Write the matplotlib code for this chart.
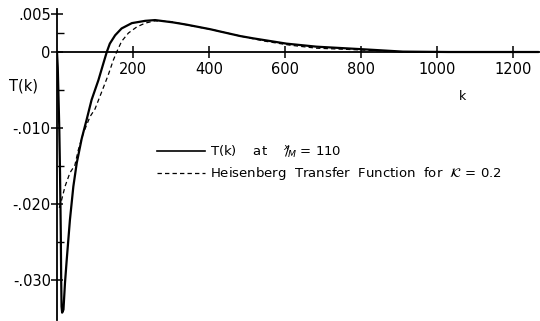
import matplotlib
matplotlib.use("Agg")
import matplotlib.pyplot as plt
from matplotlib.lines import Line2D

# Measured transfer function T(k) at x/M = 110
k_meas = [0, 2, 4, 6, 8, 10, 11, 12, 13.5, 17, 21, 25.5, 34, 43, 52, 65, 78, 91,
          109, 122, 131, 139, 153, 170, 197, 232, 258, 305, 341, 403, 429, 482,
          516, 604, 683, 805, 910, 1030, 1150, 1265]
t_meas = [0, -0.002, -0.006, -0.010, -0.016, -0.024, -0.030, -0.0335, -0.0343,
          -0.0339, -0.0304, -0.0274, -0.0221, -0.0177, -0.0146, -0.0114, -0.0089,
          -0.0063, -0.0037, -0.0015, 0.0, 0.0011, 0.0022, 0.0031, 0.0038, 0.0041,
          0.0042, 0.0039, 0.0036, 0.0030, 0.0027, 0.0021, 0.0018, 0.0011, 0.0007,
          0.00036, 0.00005, 0.0, 0.0, 0.0]

# Heisenberg transfer function, kappa = 0.2
k_heis = [6, 12, 21, 34, 47, 56, 69, 87, 100, 118, 135, 148, 157, 170, 188, 210,
          232, 258, 300, 358, 403, 482, 550, 613, 683, 771, 850, 903, 1000]
t_heis = [-0.0205, -0.0195, -0.0177, -0.0159, -0.0149, -0.0129, -0.0107, -0.0085,
          -0.0075, -0.0052, -0.0030, -0.0011, 0.0, 0.0014, 0.0025, 0.0033, 0.0038,
          0.0041, 0.0040, 0.0034, 0.0030, 0.0021, 0.0014, 0.0009, 0.0005,
          0.00033, 0.00015, 0.00004, 0.0]

x_ticks = [200, 400, 600, 800, 1000, 1200]
x_ticklabels = ["200", "400", "600", "800", "1000", "1200"]
y_ticks = [0.005, 0, -0.010, -0.020, -0.030]
y_ticklabels = [".005", "0", "-.010", "-.020", "-.030"]
y_minor = [0.0025, -0.005, -0.015, -0.025]

label_meas = r"T(k)    at    $^{x}\!\!/\!_{M}$ = 110"
label_heis = r"Heisenberg  Transfer  Function  for  $\mathcal{K}$ = 0.2"

W, H = 540, 321
fig = plt.figure(figsize=(W / 100, H / 100), dpi=100)

# axes placement in pixels
x0_px, px_per_k = 57, 0.38
y0_px, px_per_unit = 52, 7600.0
xmax, ymin, ymax = 1270, -0.0352, 0.0056
left = x0_px / W
width = xmax * px_per_k / W
top_px = y0_px - ymax * px_per_unit
bot_px = y0_px - ymin * px_per_unit
ax = fig.add_axes([left, 1 - bot_px / H, width, (bot_px - top_px) / H])

ax.plot(k_meas, t_meas, color="black", lw=1.6, solid_joinstyle="round")
ax.plot(k_heis, t_heis, color="black", lw=0.9, ls=(0, (3.5, 2.5)))

ax.set_xlim(0, xmax)
ax.set_ylim(ymin, ymax)

for s in ("top", "right"):
    ax.spines[s].set_visible(False)
ax.spines["bottom"].set_position(("data", 0))
ax.spines["bottom"].set_linewidth(1.3)
ax.spines["left"].set_linewidth(1.3)

ax.set_xticks(x_ticks)
ax.set_xticklabels(x_ticklabels)
ax.set_yticks(y_ticks)
ax.set_yticklabels(y_ticklabels)
ax.set_yticks(y_minor, minor=True)
ax.tick_params(axis="x", direction="inout", length=9, width=1.1,
               labelsize=10.5, pad=3)
ax.tick_params(axis="y", which="major", direction="inout", length=9, width=1.1,
               labelsize=10.5, pad=0)
ax.tick_params(axis="y", which="minor", direction="in", length=5, width=1.0)

ax.text(1068, -0.0059, "k", fontsize=9, ha="center", va="center")
ax.text(-89, -0.0045, "T(k)", fontsize=10.5, ha="center", va="center",
        clip_on=False)

handles = [Line2D([], [], color="black", lw=1.2),
           Line2D([], [], color="black", lw=0.9, ls=(0, (3.5, 2.5)))]
ax.legend(handles, [label_meas, label_heis], loc="upper left",
          bbox_to_anchor=(157 / W, 1 - 144 / H), bbox_transform=fig.transFigure,
          frameon=False, fontsize=9.5, handlelength=3.6, handletextpad=0.4,
          labelspacing=0.4, borderpad=0, borderaxespad=0)

fig.savefig("out.png", dpi=100)
